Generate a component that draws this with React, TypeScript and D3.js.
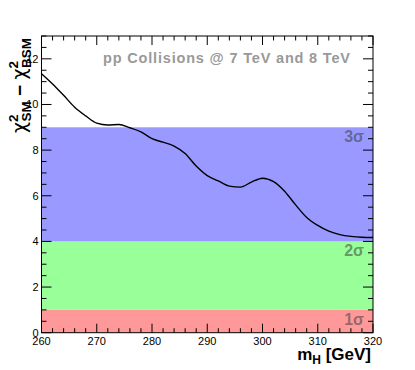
import React from 'react';
import * as d3 from 'd3';

// chi2 difference vs Higgs mass
const masses = [260, 262, 264, 266, 268, 270, 272, 274, 276, 278, 280, 282, 284, 286, 288, 290,
  292, 294, 296, 298, 300, 302, 304, 306, 308, 310, 312, 314, 316, 318, 320];
const chi2Diff = [11.35, 10.9, 10.4, 9.88, 9.5, 9.18, 9.1, 9.12, 8.98, 8.8, 8.5, 8.35, 8.18, 7.85, 7.3, 6.88,
  6.65, 6.42, 6.38, 6.6, 6.77, 6.62, 6.2, 5.6, 5.05, 4.7, 4.45, 4.3, 4.22, 4.18, 4.17];

const bandLabels = ['1σ', '2σ', '3σ'];
const bandLow = [0, 1, 4];
const bandHigh = [1, 4, 9];
const bandColors = ['#ff9999', '#99ff99', '#9999ff'];

const xTicks = [260, 270, 280, 290, 300, 310, 320];
const yTicks = [0, 2, 4, 6, 8, 10, 12];

const W = 415, H = 370;
const left = 41.5, right = 373, top = 36, bottom = 332.7;

export default function App() {
  const x = d3.scaleLinear().domain([260, 320]).range([left, right]);
  const y = d3.scaleLinear().domain([0, 13]).range([bottom, top]);

  const line = d3.line<number>()
    .x((d, i) => x(masses[i]))
    .y(d => y(d))
    .curve(d3.curveMonotoneX);

  const xMinor = d3.range(260, 320.01, 2);
  const yMinor = d3.range(0, 13.01, 0.5);
  const font = 'Liberation Sans, Arial, sans-serif';
  const greek = 'DejaVu Sans, sans-serif';

  return (
    <svg width={W} height={H} style={{ position: 'absolute', left: 0, top: 0 }} fontFamily={font}>
      <rect width={W} height={H} fill="#fff" />
      {bandLow.map((lo, i) => (
        <rect key={i} x={left} width={right - left} y={y(bandHigh[i])} height={y(lo) - y(bandHigh[i])}
          fill={bandColors[i]} />
      ))}
      {bandLabels.map((t, i) => (
        <text key={t} x={364} y={y(bandHigh[i]) + 15} textAnchor="end" fontSize={16} fontWeight="bold"
          fill="#333" fillOpacity={0.5}>{t}</text>
      ))}
      <path d={line(chi2Diff) || ''} fill="none" stroke="#000" strokeWidth={1.4} />

      {/* ticks, all inside the frame */}
      {xMinor.map(v => {
        const major = v % 10 === 0;
        const len = major ? 9 : 4.5;
        return (
          <g key={'x' + v} stroke="#000" strokeWidth={1}>
            <line x1={x(v)} x2={x(v)} y1={bottom} y2={bottom - len} />
            <line x1={x(v)} x2={x(v)} y1={top} y2={top + len} />
          </g>
        );
      })}
      {yMinor.map(v => {
        const major = v % 2 === 0;
        const len = major ? 10 : 5;
        return (
          <g key={'y' + v} stroke="#000" strokeWidth={1}>
            <line x1={left} x2={left + len} y1={y(v)} y2={y(v)} />
            <line x1={right} x2={right - len} y1={y(v)} y2={y(v)} />
          </g>
        );
      })}
      <rect x={left} y={top} width={right - left} height={bottom - top} fill="none" stroke="#000" strokeWidth={1} />

      {xTicks.map(v => (
        <text key={v} x={x(v)} y={345} textAnchor="middle" fontSize={11}>{v}</text>
      ))}
      {yTicks.map(v => (
        <text key={v} x={38.5} y={y(v) + 4} textAnchor="end" fontSize={11}>{v}</text>
      ))}

      <text x={350} y={63} textAnchor="end" fontSize={14.5} fontWeight="bold" fill="#999"
        textLength={247} lengthAdjust="spacing">
        pp Collisions @ 7 TeV and 8 TeV
      </text>

      <text x={371} y={360} textAnchor="end" fontSize={17} fontWeight="bold">
        m<tspan fontSize={12} dy={4}>H</tspan><tspan dy={-4}> [GeV]</tspan>
      </text>

      <text transform="translate(26,38) rotate(-90)" textAnchor="end" fontSize={19} fontWeight="bold">
        <tspan fontFamily={greek} fontWeight="normal">χ</tspan><tspan fontSize={13.5} dy={-8}>2</tspan>
        <tspan fontSize={13.5} dx={-7} dy={13}>SM</tspan>
        <tspan dy={-5}>{'  −  '}</tspan><tspan fontFamily={greek} fontWeight="normal">χ</tspan>
        <tspan fontSize={13.5} dy={-8}>2</tspan>
        <tspan fontSize={13.5} dx={-7} dy={13}>BSM</tspan>
      </text>
    </svg>
  );
}
